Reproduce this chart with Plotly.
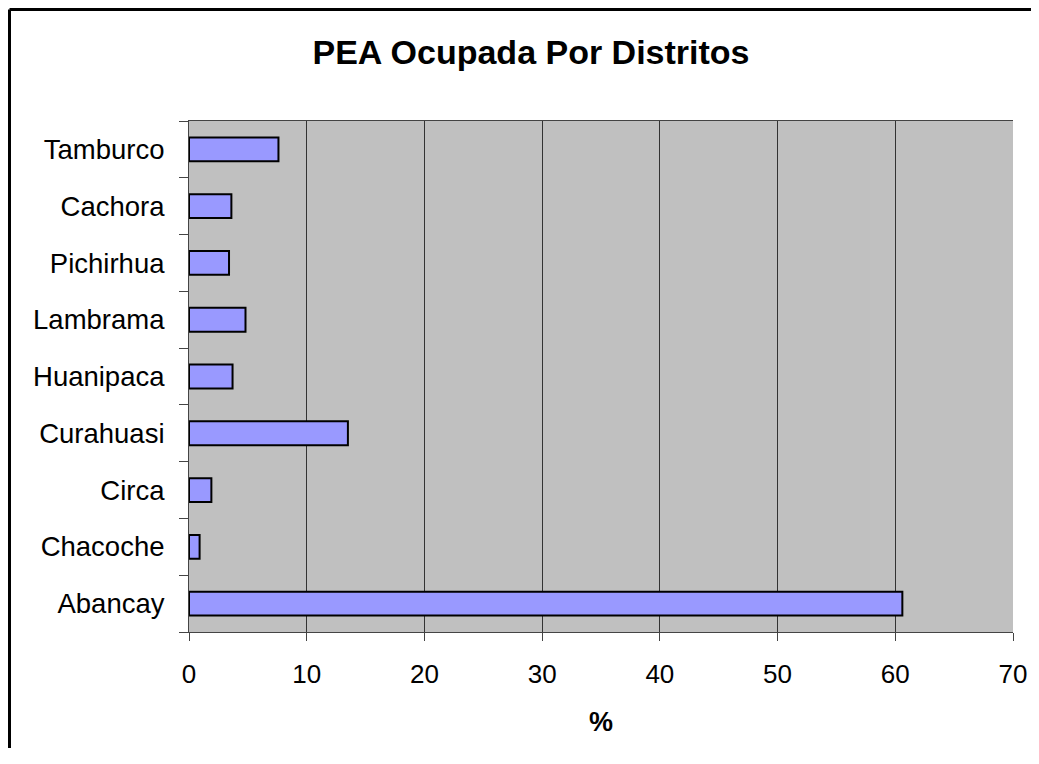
import plotly.graph_objects as go

distritos = ["Abancay", "Chacoche", "Circa", "Curahuasi", "Huanipaca",
             "Lambrama", "Pichirhua", "Cachora", "Tamburco"]
pea_pct = [60.6, 0.9, 1.9, 13.5, 3.7, 4.8, 3.4, 3.6, 7.6]
x_ticks = [0, 10, 20, 30, 40, 50, 60, 70]

# the page body adds an 8px offset, so the figure is shrunk
# (no scrollbars) and margins are shifted by 8
W, H = 1023, 740
ML, MR, MT, MB = 181, 18, 113, 116
PW = W - ML - MR
PH = H - MT - MB

fig = go.Figure(
    go.Bar(
        x=pea_pct,
        y=distritos,
        orientation="h",
        marker=dict(color="#9999FF", line=dict(color="black", width=2)),
    )
)

fig.update_layout(
    width=W,
    height=H,
    margin=dict(l=ML, r=MR, t=MT, b=MB, autoexpand=False),
    paper_bgcolor="white",
    plot_bgcolor="#C0C0C0",
    font=dict(family="Liberation Sans, Arial, sans-serif", size=27, color="black"),
    bargap=0.58,
    showlegend=False,
    title=dict(
        text="<b>PEA Ocupada Por Distritos</b>",
        x=(523 - ML) / PW,
        xref="paper",
        xanchor="center",
        y=1 - 44 / H,
        yanchor="middle",
        font=dict(size=34),
    ),
    shapes=[
        dict(type="line", xref="paper", yref="paper",
             x0=(1.5 - ML) / PW, x1=(1.5 - ML) / PW,
             y0=-0.5, y1=(PH + MT - 1.5) / PH,
             line=dict(color="black", width=3)),
        dict(type="line", xref="paper", yref="paper",
             x0=(1.5 - ML) / PW, x1=1.2,
             y0=(PH + MT - 1.5) / PH, y1=(PH + MT - 1.5) / PH,
             line=dict(color="black", width=3)),
    ],
)

fig.update_xaxes(
    range=[0, 70],
    tickvals=x_ticks,
    automargin=False,
    showgrid=True,
    gridcolor="#333333",
    gridwidth=1,
    showline=True,
    linecolor="#444444",
    linewidth=1,
    mirror=True,
    ticks="outside",
    ticklen=8,
    tickcolor="#444444",
    tickfont=dict(size=26),
    ticklabelstandoff=11,
    zeroline=False,
    title=dict(text="<b>%</b>", standoff=23, font=dict(size=27)),
    fixedrange=True,
)
fig.update_yaxes(
    categoryorder="array",
    categoryarray=distritos,
    automargin=False,
    tickson="boundaries",
    showgrid=False,
    showline=True,
    linecolor="#444444",
    linewidth=1,
    ticks="outside",
    ticklen=9,
    tickcolor="#444444",
    tickfont=dict(size=27.5),
    ticklabelstandoff=18,
    fixedrange=True,
)

fig.write_html("out.html")
